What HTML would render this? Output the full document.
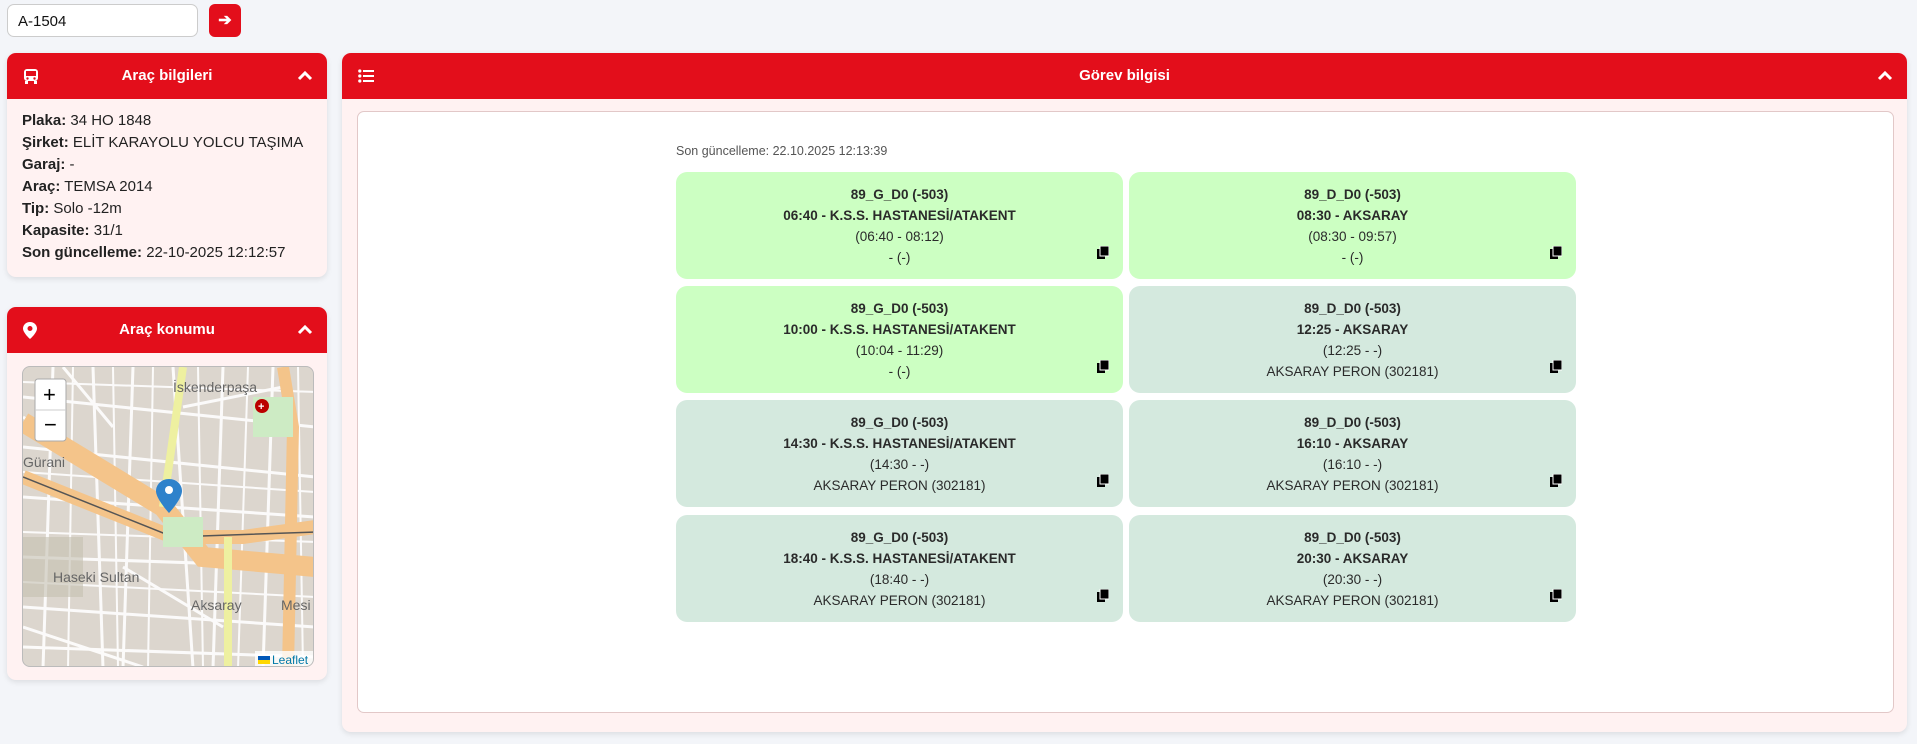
<!DOCTYPE html>
<html><head><meta charset="utf-8"><style>
*{box-sizing:border-box;margin:0;padding:0}
body{width:1917px;height:744px;background:#f3f5f9;font-family:"Liberation Sans",sans-serif;position:relative;overflow:hidden;color:#222}
.abs{position:absolute}
.input{left:7px;top:4px;width:191px;height:33px;background:#fff;border:1px solid #ccc;border-radius:7px;font-size:15px;padding:8px 10px;color:#111}
.btn{left:209px;top:4px;width:32px;height:33px;background:#e30e1b;border-radius:6px;color:#fff;font-size:16px;text-align:center;line-height:33px;font-weight:bold}
.panel{background:#fff2f2;border-radius:9px;overflow:hidden;box-shadow:0 2px 6px rgba(0,0,0,.1)}
.hd{background:#e30e1b;height:46px;color:#fff;font-weight:bold;font-size:15px;text-align:center;line-height:46px;position:relative}
.hd .l{position:absolute;left:16px;top:0}
.hd .r{position:absolute;right:14px;top:0}
.info{padding:11px 15px;font-size:15px;line-height:22px;color:#222}
.card{position:absolute;width:447px;height:107px;border-radius:11px;text-align:center;font-size:13.5px;color:#2a2a2a;padding-top:12px;line-height:21px}
.g{background:#ccffc2}.s{background:#d4e9de}
.card b{display:block}
.cp{position:absolute;right:14px;top:74px;width:12px;height:13px}
</style></head><body>
<div class="abs input">A-1504</div>
<div class="abs btn">➔</div>

<div class="abs panel" style="left:7px;top:53px;width:320px;height:224px">
 <div class="hd"><span class="l"><svg width="16" height="16" viewBox="0 0 16 16" style="vertical-align:middle"><rect x="1" y="1" width="14" height="12" rx="3" fill="#fff"/><rect x="3" y="3" width="10" height="5" fill="#e30e1b"/><circle cx="4.5" cy="10.5" r="1.2" fill="#e30e1b"/><circle cx="11.5" cy="10.5" r="1.2" fill="#e30e1b"/><rect x="2" y="13" width="3" height="3" fill="#fff"/><rect x="11" y="13" width="3" height="3" fill="#fff"/></svg></span>Araç bilgileri<span class="r"><svg width="16" height="10" viewBox="0 0 16 10" style="vertical-align:middle"><path d="M2 8L8 2L14 8" stroke="#fff" stroke-width="3" fill="none"/></svg></span></div>
 <div class="info"><b>Plaka:</b> 34 HO 1848<br><b>Şirket:</b> ELİT KARAYOLU YOLCU TAŞIMA<br><b>Garaj:</b> -<br><b>Araç:</b> TEMSA 2014<br><b>Tip:</b> Solo -12m<br><b>Kapasite:</b> 31/1<br><b>Son güncelleme:</b> 22-10-2025 12:12:57</div>
</div>

<div class="abs panel" style="left:7px;top:307px;width:320px;height:373px">
 <div class="hd"><span class="l"><svg width="14" height="17" viewBox="0 0 14 17" style="vertical-align:middle"><path d="M7 0C3 0 0 3 0 6.5 0 11 7 17 7 17s7-6 7-10.5C14 3 11 0 7 0z" fill="#fff"/><circle cx="7" cy="6.5" r="2.5" fill="#e30e1b"/></svg></span>Araç konumu<span class="r"><svg width="16" height="10" viewBox="0 0 16 10" style="vertical-align:middle"><path d="M2 8L8 2L14 8" stroke="#fff" stroke-width="3" fill="none"/></svg></span></div>
 <div class="abs" style="left:15px;top:59px;width:292px;height:301px;border-radius:8px;overflow:hidden;background:#dcd6ce;border:1px solid #bbb">
  <svg width="292" height="301" viewBox="0 0 292 301">
   <g stroke="#fff" stroke-width="3" fill="none" opacity=".9">
    <path d="M0 30L292 60M0 80L292 110M0 130L292 150M0 190L292 200M0 240L292 260M0 280L292 290M30 0L20 301M70 0L80 301M110 0L100 301M150 0L170 301M200 0L190 301M250 0L240 301"/>
    <path d="M0 50L100 120M40 0L90 60M160 40L260 20M100 200L200 260M0 260L120 300"/>
    <path d="M0 15L292 25M0 105L292 125M0 165L292 175M0 215L292 230M50 0L45 301M90 0L95 301M130 0L125 301M175 0L180 301M225 0L215 301M275 0L280 301" stroke-width="2"/>
   </g>
   <path d="M0 55L140 140L180 190L292 200" stroke="#f4c48a" stroke-width="20" fill="none"/>
   <path d="M0 110L150 170L220 170L292 160" stroke="#f4c48a" stroke-width="14" fill="none"/>
   <path d="M260 0L270 60L265 301" stroke="#f4c48a" stroke-width="12" fill="none"/>
   <path d="M160 0L140 140M205 170L205 301" stroke="#eef0a0" stroke-width="8" fill="none"/>
   <path d="M0 110L150 170L292 165" stroke="#555" stroke-width="1.5" fill="none"/>
   <rect x="230" y="30" width="40" height="40" fill="#cdebc4"/>
   <rect x="140" y="150" width="40" height="30" fill="#cdebc4"/>
   <rect x="0" y="170" width="60" height="60" fill="#c4c0b0" opacity=".6"/>
   <text x="150" y="25" font-size="14" fill="#666" font-family="Liberation Sans">İskenderpaşa</text>
   <text x="30" y="215" font-size="14" fill="#666" font-family="Liberation Sans">Haseki Sultan</text>
   <text x="168" y="243" font-size="14" fill="#666" font-family="Liberation Sans">Aksaray</text>
   <text x="0" y="100" font-size="14" fill="#666" font-family="Liberation Sans">Gürani</text>
   <text x="258" y="243" font-size="14" fill="#666" font-family="Liberation Sans">Mesi</text>
   <circle cx="239" cy="39" r="7" fill="#b00"/><text x="235" y="43" fill="#fff" font-size="11" font-weight="bold">+</text>
   <path d="M146 112c-8 0-13 6-13 12 0 8 13 22 13 22s13-14 13-22c0-6-5-12-13-12z" fill="#2e82cb"/><circle cx="146" cy="123" r="4" fill="#fff"/>
   <rect x="12" y="12" width="31" height="62" rx="3" fill="#fff" stroke="#aaa"/><line x1="12" y1="43" x2="43" y2="43" stroke="#ccc"/>
   <text x="20" y="35" font-size="22" fill="#000">+</text><text x="21" y="65" font-size="22" fill="#000">−</text>
   <rect x="232" y="284" width="60" height="17" fill="#fff" opacity=".8"/>
   <rect x="235" y="289" width="12" height="4" fill="#0057b7"/><rect x="235" y="293" width="12" height="4" fill="#ffd700"/>
   <text x="249" y="297" font-size="12" fill="#0078a8" font-family="Liberation Sans">Leaflet</text>
  </svg>
 </div>
</div>

<div class="abs panel" style="left:342px;top:53px;width:1565px;height:679px">
 <div class="hd"><span class="l"><svg width="16" height="14" viewBox="0 0 16 14" style="vertical-align:middle"><g fill="#fff"><circle cx="1.8" cy="2" r="1.6"/><circle cx="1.8" cy="7" r="1.6"/><circle cx="1.8" cy="12" r="1.6"/><rect x="5" y="1" width="11" height="2"/><rect x="5" y="6" width="11" height="2"/><rect x="5" y="11" width="11" height="2"/></g></svg></span>Görev bilgisi<span class="r"><svg width="16" height="10" viewBox="0 0 16 10" style="vertical-align:middle"><path d="M2 8L8 2L14 8" stroke="#fff" stroke-width="3" fill="none"/></svg></span></div>
 <div class="abs" style="left:15px;top:58px;width:1537px;height:602px;background:#fff;border:1px solid #e2c8c8;border-radius:7px"></div>
</div>

<div class="abs" style="left:676px;top:144px;font-size:12.5px;color:#555">Son güncelleme: 22.10.2025 12:13:39</div>

<div class="card g" style="left:676px;top:172px"><b>89_G_D0 (-503)</b><b>06:40 - K.S.S. HASTANESİ/ATAKENT</b>(06:40 - 08:12)<br>- (-)<svg class="cp" viewBox="0 0 12 13"><rect x="0" y="3" width="8" height="10" fill="#000"/><rect x="3" y="0" width="9" height="10" fill="#000" stroke="#fff" stroke-width="1"/></svg></div>
<div class="card g" style="left:1129px;top:172px"><b>89_D_D0 (-503)</b><b>08:30 - AKSARAY</b>(08:30 - 09:57)<br>- (-)<svg class="cp" viewBox="0 0 12 13"><rect x="0" y="3" width="8" height="10" fill="#000"/><rect x="3" y="0" width="9" height="10" fill="#000" stroke="#fff" stroke-width="1"/></svg></div>
<div class="card g" style="left:676px;top:286px"><b>89_G_D0 (-503)</b><b>10:00 - K.S.S. HASTANESİ/ATAKENT</b>(10:04 - 11:29)<br>- (-)<svg class="cp" viewBox="0 0 12 13"><rect x="0" y="3" width="8" height="10" fill="#000"/><rect x="3" y="0" width="9" height="10" fill="#000" stroke="#fff" stroke-width="1"/></svg></div>
<div class="card s" style="left:1129px;top:286px"><b>89_D_D0 (-503)</b><b>12:25 - AKSARAY</b>(12:25 - -)<br>AKSARAY PERON (302181)<svg class="cp" viewBox="0 0 12 13"><rect x="0" y="3" width="8" height="10" fill="#000"/><rect x="3" y="0" width="9" height="10" fill="#000" stroke="#fff" stroke-width="1"/></svg></div>
<div class="card s" style="left:676px;top:400px"><b>89_G_D0 (-503)</b><b>14:30 - K.S.S. HASTANESİ/ATAKENT</b>(14:30 - -)<br>AKSARAY PERON (302181)<svg class="cp" viewBox="0 0 12 13"><rect x="0" y="3" width="8" height="10" fill="#000"/><rect x="3" y="0" width="9" height="10" fill="#000" stroke="#fff" stroke-width="1"/></svg></div>
<div class="card s" style="left:1129px;top:400px"><b>89_D_D0 (-503)</b><b>16:10 - AKSARAY</b>(16:10 - -)<br>AKSARAY PERON (302181)<svg class="cp" viewBox="0 0 12 13"><rect x="0" y="3" width="8" height="10" fill="#000"/><rect x="3" y="0" width="9" height="10" fill="#000" stroke="#fff" stroke-width="1"/></svg></div>
<div class="card s" style="left:676px;top:515px"><b>89_G_D0 (-503)</b><b>18:40 - K.S.S. HASTANESİ/ATAKENT</b>(18:40 - -)<br>AKSARAY PERON (302181)<svg class="cp" viewBox="0 0 12 13"><rect x="0" y="3" width="8" height="10" fill="#000"/><rect x="3" y="0" width="9" height="10" fill="#000" stroke="#fff" stroke-width="1"/></svg></div>
<div class="card s" style="left:1129px;top:515px"><b>89_D_D0 (-503)</b><b>20:30 - AKSARAY</b>(20:30 - -)<br>AKSARAY PERON (302181)<svg class="cp" viewBox="0 0 12 13"><rect x="0" y="3" width="8" height="10" fill="#000"/><rect x="3" y="0" width="9" height="10" fill="#000" stroke="#fff" stroke-width="1"/></svg></div>
</body></html>
